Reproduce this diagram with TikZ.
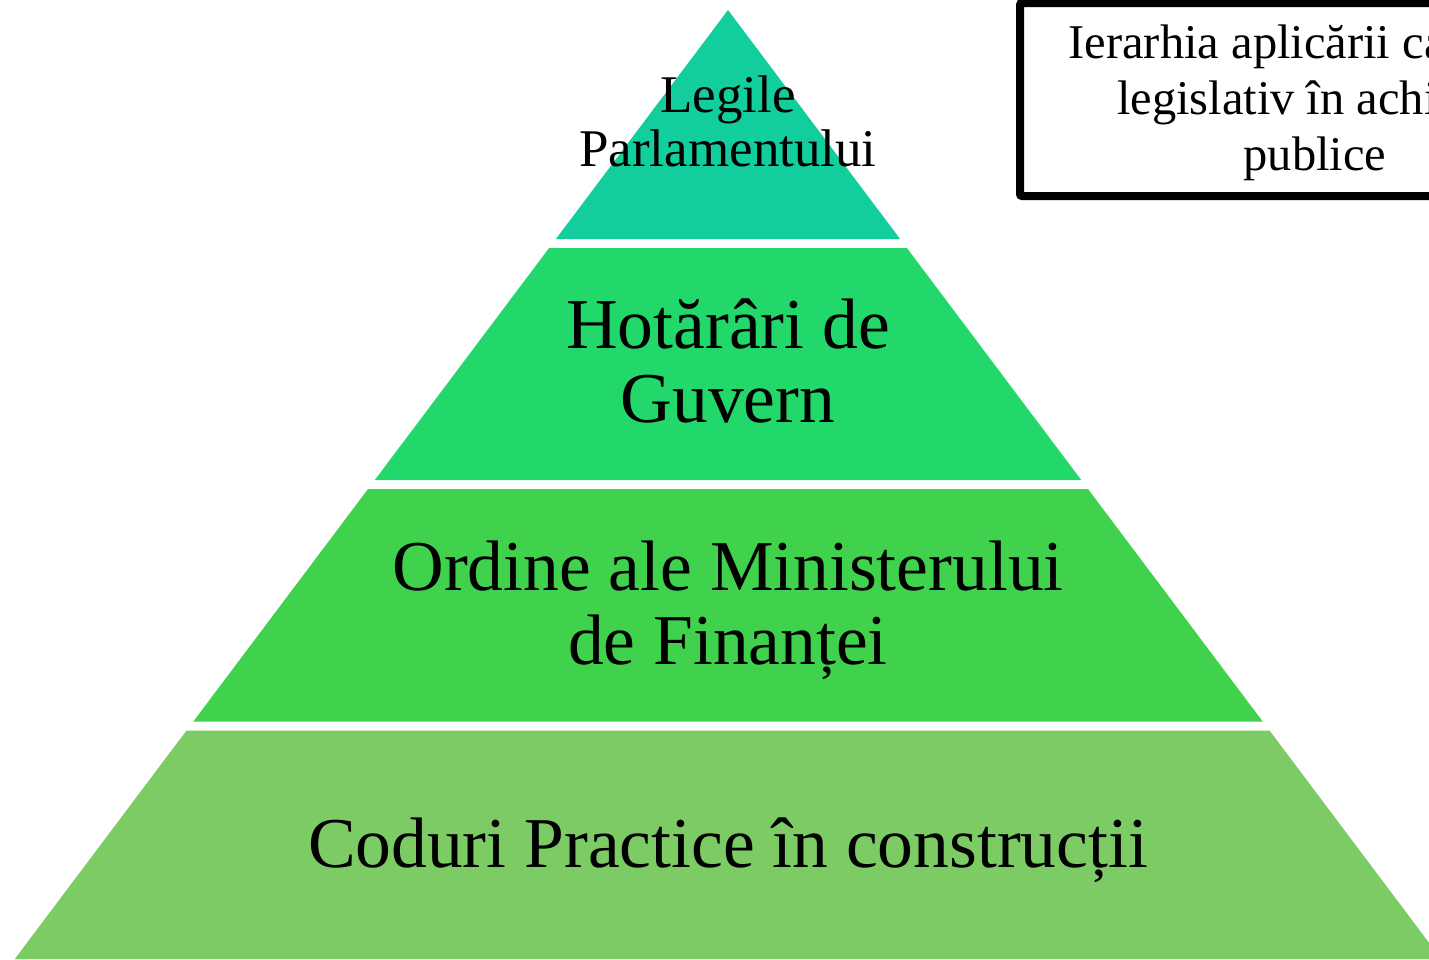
\documentclass[tikz,border=0pt]{standalone}
\usepackage{fontspec}
\setmainfont{Liberation Serif}
\definecolor{lvlA}{HTML}{12CE9C}
\definecolor{lvlB}{HTML}{22D86A}
\definecolor{lvlC}{HTML}{41D24D}
\definecolor{lvlD}{HTML}{7DCB64}
\tikzset{
  layer/.style={draw=none},
  small/.style={inner sep=0pt, align=center, anchor=base, font=\fontsize{53}{54}\selectfont},
  big/.style={inner sep=0pt, align=center, anchor=base, font=\fontsize{71.5}{74}\selectfont},
  boxtext/.style={inner sep=0pt, align=center, anchor=base, font=\fontsize{48.5}{56}\selectfont},
}
\begin{document}
\begin{tikzpicture}[x=1pt,y=-1pt]
\useasboundingbox (0,0) rectangle (1429,959);
\clip (0,0) rectangle (1429,959);
% pyramid layers
\fill[lvlA, layer] (728,10) -- (900.1,239) -- (555.9,239) -- cycle;
\fill[lvlB, layer] (549.1,248) -- (906.9,248) -- (1081.2,480) -- (374.8,480) -- cycle;
\fill[lvlC, layer] (368,489) -- (1088,489) -- (1262.7,721.5) -- (193.3,721.5) -- cycle;
\fill[lvlD, layer] (186.5,730.5) -- (1269.5,730.5) -- (1441.2,959) -- (14.8,959) -- cycle;
% labels (base anchor = baseline of last line)
\node[small] (l1) at (728,166) {Legile\\Parlamentului};
\node[big] (l2) at (728,422) {Hotărâri de\\Guvern};
\node[big] (l3) at (728,664) {Ordine ale Ministerului\\de Finanței};
\node[big] (l4) at (728,867) {Coduri Practice în construcții};
% title box
\draw[line width=8pt, rounded corners=2pt] (1020,3) rectangle (1640,196);
\node[boxtext] (title) at (1315,170) {Ierarhia aplicării cadrului\\legislativ în achiziții\\publice};
\end{tikzpicture}
\end{document}
